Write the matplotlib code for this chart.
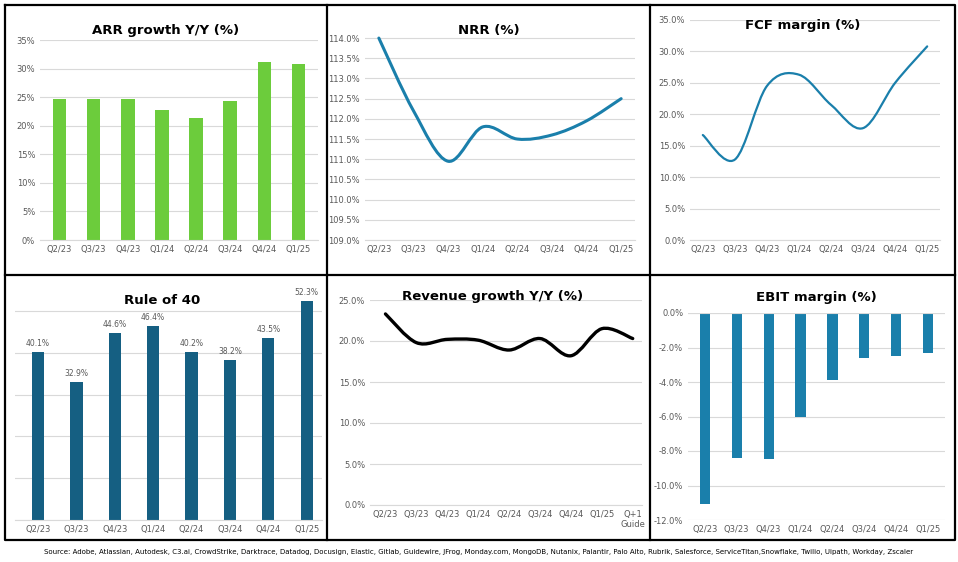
import matplotlib.pyplot as plt
import numpy as np
from matplotlib.path import Path
from matplotlib.patches import PathPatch
from matplotlib.ticker import FuncFormatter

quarters = ['Q2/23', 'Q3/23', 'Q4/23', 'Q1/24', 'Q2/24', 'Q3/24', 'Q4/24', 'Q1/25']
rev_quarters = quarters + ['Q+1\nGuide']

arr_growth = [24.7, 24.7, 24.7, 22.7, 21.4, 24.4, 31.2, 30.8]
nrr = [114.0, 112.2, 110.95, 111.8, 111.5, 111.6, 111.95, 112.5]
fcf_margin = [16.7, 12.8, 24.5, 26.3, 21.5, 17.8, 25.0, 30.8]
rule_of_40 = [40.1, 32.9, 44.6, 46.4, 40.2, 38.2, 43.5, 52.3]
rev_growth = [23.3, 19.8, 20.2, 20.1, 18.9, 20.3, 18.2, 21.5, 20.3]
ebit_margin = [-11.1, -8.4, -8.45, -6.0, -3.9, -2.6, -2.5, -2.3]

GREEN = '#6ccc3c'
BLUE = '#1a7fab'
NAVY = '#155f82'
TICK = '#595959'
TSIZE = 9.5


def smooth_line(ax, y, color, lw):
    # Excel-style smoothed line drawn as cubic Bezier segments through the points
    x = np.arange(len(y), dtype=float)
    y = np.asarray(y, dtype=float)
    verts = [(x[0], y[0])]
    codes = [Path.MOVETO]
    n = len(y)
    for i in range(n - 1):
        p0 = (x[max(i - 1, 0)], y[max(i - 1, 0)])
        p1 = (x[i], y[i])
        p2 = (x[i + 1], y[i + 1])
        p3 = (x[min(i + 2, n - 1)], y[min(i + 2, n - 1)])
        c1 = (p1[0] + (p2[0] - p0[0]) / 6, p1[1] + (p2[1] - p0[1]) / 6)
        c2 = (p2[0] - (p3[0] - p1[0]) / 6, p2[1] - (p3[1] - p1[1]) / 6)
        verts += [c1, c2, p2]
        codes += [Path.CURVE4] * 3
    ax.add_patch(PathPatch(Path(verts, codes), fill=False, edgecolor=color,
                           lw=lw, capstyle='round', joinstyle='round'))
    ax.set_xlim(-0.4, n - 0.6)


def style(ax, fmt=None):
    for s in ax.spines.values():
        s.set_visible(False)
    ax.spines['bottom'].set_visible(True)
    ax.spines['bottom'].set_color('#d9d9d9')
    ax.grid(axis='y', color='#d9d9d9', lw=0.8)
    ax.set_axisbelow(True)
    ax.tick_params(length=0, labelsize=6, colors=TICK)
    if fmt:
        ax.yaxis.set_major_formatter(FuncFormatter(fmt))


def title(ax, text, x, y):
    ax.text(x, y, text, transform=ax.transAxes, ha='center',
            fontsize=TSIZE, fontweight='bold')


fig = plt.figure(figsize=(9.58, 5.62), dpi=100)
W, H = 958, 562


def axes(l, t, r, b):
    return fig.add_axes([l / W, 1 - b / H, (r - l) / W, (b - t) / H])


# ARR growth
ax = axes(40, 40, 318, 240)
ax.bar(quarters, arr_growth, width=0.4, color=GREEN)
ax.set_ylim(0, 35)
ax.set_yticks(np.arange(0, 36, 5))
style(ax, lambda v, p: f'{v:.0f}%')
title(ax, 'ARR growth Y/Y (%)', 0.45, 1.03)

# NRR
ax = axes(365, 30, 635, 240)
smooth_line(ax, nrr, BLUE, 2.2)
ax.set_ylim(109.0, 114.2)
ax.set_yticks(np.arange(109.0, 114.01, 0.5))
ax.set_xticks(range(len(quarters)), quarters)
style(ax, lambda v, p: f'{v:.1f}%')
title(ax, 'NRR (%)', 0.46, 0.98)

# FCF margin
ax = axes(690, 20, 940, 240)
smooth_line(ax, fcf_margin, BLUE, 1.6)
ax.set_ylim(0, 35)
ax.set_yticks(np.arange(0, 36, 5))
ax.set_xticks(range(len(quarters)), quarters)
style(ax, lambda v, p: f'{v:.1f}%')
title(ax, 'FCF margin (%)', 0.45, 0.96)

# Rule of 40
ax = axes(15, 290, 322, 520)
bars = ax.bar(quarters, rule_of_40, width=0.32, color=NAVY)
for b, v in zip(bars, rule_of_40):
    ax.text(b.get_x() + b.get_width() / 2, v + 1.5, f'{v:.1f}%', ha='center',
            fontsize=5.5, color=TICK)
ax.set_ylim(0, 55)
ax.set_yticks(np.arange(0, 51, 10))
style(ax)
ax.set_yticklabels([])
ax.set_xlim(-0.6, 7.4)
title(ax, 'Rule of 40', 0.48, 0.94)

# Revenue growth
ax = axes(370, 300, 642, 505)
smooth_line(ax, rev_growth, 'black', 2.4)
ax.set_ylim(0, 25)
ax.set_yticks(np.arange(0, 26, 5))
ax.set_xticks(range(len(rev_quarters)), rev_quarters)
style(ax, lambda v, p: f'{v:.1f}%')
ax.set_xlim(-0.5, 8.3)
title(ax, 'Revenue growth Y/Y (%)', 0.45, 1.0)

# EBIT margin
ax = axes(688, 313, 945, 520)
ax.bar(quarters, ebit_margin, width=0.32, color=BLUE)
ax.set_ylim(-12, 0)
ax.set_yticks(np.arange(-12, 0.1, 2))
style(ax, lambda v, p: f'{v:.1f}%')
ax.spines['bottom'].set_visible(False)
ax.axhline(0, color='#d9d9d9', lw=0.8)
title(ax, 'EBIT margin (%)', 0.5, 1.06)

# panel frame lines
frame = fig.add_axes([0, 0, 1, 1], zorder=-1)
frame.set_xlim(0, W)
frame.set_ylim(H, 0)
frame.axis('off')
kw = dict(color='black', lw=1.6)
frame.plot([5, 955, 955, 5, 5], [5, 5, 540, 540, 5], **kw)
frame.plot([5, 955], [275, 275], **kw)
frame.plot([327, 327], [5, 540], **kw)
frame.plot([650, 650], [5, 540], **kw)

fig.text(0.5, 1 - 552 / H,
         'Source: Adobe, Atlassian, Autodesk, C3.ai, CrowdStrike, Darktrace, Datadog, Docusign, Elastic, Gitlab, '
         'Guidewire, JFrog, Monday.com, MongoDB, Nutanix, Palantir, Palo Alto, Rubrik, Salesforce, ServiceTitan,'
         'Snowflake, Twilio, Uipath, Workday, Zscaler',
         ha='center', va='center', fontsize=5.0)

fig.savefig('out.png', dpi=100)
